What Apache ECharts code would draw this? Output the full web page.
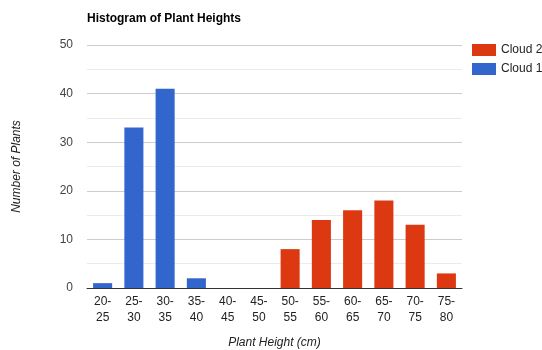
<!DOCTYPE html>
<html>
<head>
<meta charset="utf-8">
<script src="https://cdn.jsdelivr.net/npm/echarts@6/dist/echarts.min.js"></script>
<style>
html, body { margin: 0; padding: 0; background: #fff; }
#chart { width: 542px; height: 350px; }
</style>
</head>
<body>
<div id="chart"></div>
<script>
// 分组 (Plant height bins)
var categories = ['20-\n25', '25-\n30', '30-\n35', '35-\n40', '40-\n45', '45-\n50',
                  '50-\n55', '55-\n60', '60-\n65', '65-\n70', '70-\n75', '75-\n80'];
var cloud1 = [1, 33, 41, 2, 0, 0, 0, 0, 0, 0, 0, 0];
var cloud2 = [0, 0, 0, 0, 0, 0, 8, 14, 16, 18, 13, 3];
var yTicks = [0, 10, 20, 30, 40, 50];

var font = 'Liberation Sans, Arial, sans-serif';

var option = {
  animation: false,
  textStyle: { fontFamily: font },
  title: {
    text: 'Histogram of Plant Heights',
    left: 82,
    top: 8,
    textStyle: { fontSize: 12, fontWeight: 'bold', color: '#000', fontFamily: font }
  },
  legend: {
    data: ['Cloud 2', 'Cloud 1'],
    orient: 'vertical',
    left: 472,
    top: 44,
    padding: 0,
    icon: 'rect',
    itemWidth: 24,
    itemHeight: 12,
    itemGap: 7,
    textStyle: { fontSize: 12, color: '#222', fontFamily: font }
  },
  grid: { left: 87, right: 80, top: 45, bottom: 62, outerBoundsMode: 'none', containLabel: false },
  xAxis: {
    type: 'category',
    data: categories,
    name: 'Plant Height (cm)',
    nameLocation: 'middle',
    nameGap: 49,
    nameTextStyle: { fontStyle: 'italic', fontSize: 12, color: '#222' },
    axisLine: { lineStyle: { color: '#333' } },
    axisTick: { show: false },
    axisLabel: { color: '#222', fontSize: 12, interval: 0, lineHeight: 16, margin: 6 }
  },
  yAxis: {
    type: 'value',
    min: 0,
    max: 50,
    interval: 10,
    name: 'Number of Plants',
    nameLocation: 'middle',
    nameGap: 64,
    nameRotate: 90,
    nameTextStyle: { fontStyle: 'italic', fontSize: 12, color: '#222' },
    axisLine: { show: false },
    axisTick: { show: false },
    axisLabel: {
      color: '#444', fontSize: 12, margin: 14,
      formatter: function (v) { return yTicks.indexOf(v) >= 0 ? v : ''; }
    },
    splitLine: { lineStyle: { color: '#cccccc' } },
    minorTick: { show: false, splitNumber: 2 },
    minorSplitLine: { show: true, lineStyle: { color: '#ebebeb' } }
  },
  series: [
    {
      name: 'Cloud 1',
      type: 'bar',
      stack: 'total',
      data: cloud1,
      barCategoryGap: '39%',
      itemStyle: { color: '#3366cc' }
    },
    {
      name: 'Cloud 2',
      type: 'bar',
      stack: 'total',
      data: cloud2,
      itemStyle: { color: '#dc3912' }
    }
  ]
};

var myChart = echarts.init(document.getElementById('chart'));
myChart.setOption(option);
</script>
</body>
</html>
